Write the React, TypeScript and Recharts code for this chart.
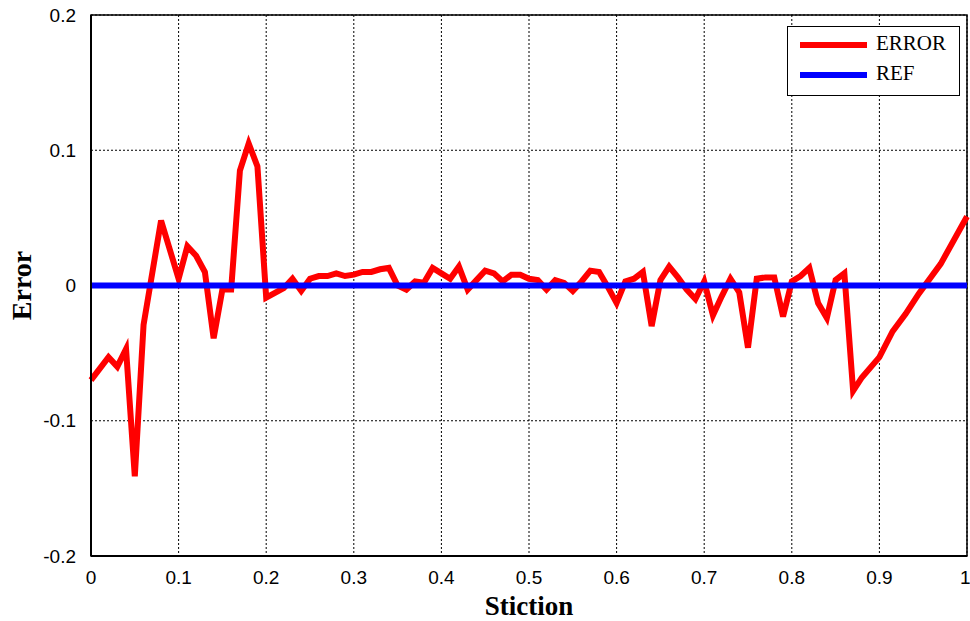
import React from 'react';
import {
  LineChart,
  Line,
  XAxis,
  YAxis,
  CartesianGrid,
  ReferenceArea,
} from 'recharts';

// stiction values (x) and the error read at each one
const stiction = [
  0, 0.02, 0.03, 0.04, 0.05, 0.06, 0.08, 0.1, 0.11, 0.12, 0.13, 0.14, 0.15, 0.16, 0.17, 0.18, 0.19, 0.2,
  0.22, 0.23, 0.24, 0.25, 0.26, 0.27, 0.28, 0.29, 0.3, 0.31, 0.32, 0.33, 0.34, 0.35, 0.36, 0.37, 0.38,
  0.39, 0.4, 0.41, 0.42, 0.43, 0.44, 0.45, 0.46, 0.47, 0.48, 0.49, 0.5, 0.51, 0.52, 0.53, 0.54, 0.55,
  0.56, 0.57, 0.58, 0.59, 0.6, 0.61, 0.62, 0.63, 0.64, 0.65, 0.66, 0.67, 0.68, 0.69, 0.7, 0.71, 0.72,
  0.73, 0.74, 0.75, 0.76, 0.77, 0.78, 0.79, 0.8, 0.81, 0.82, 0.83, 0.84, 0.85, 0.86, 0.87, 0.88, 0.9,
  0.915, 0.93, 0.945, 0.97, 1,
];
const errorValues = [
  -0.07, -0.053, -0.06, -0.047, -0.141, -0.029, 0.048, 0.005, 0.029, 0.022, 0.01, -0.039, -0.003, -0.003,
  0.085, 0.105, 0.088, -0.009, -0.002, 0.005, -0.004, 0.005, 0.007, 0.007, 0.009, 0.007, 0.008, 0.01,
  0.01, 0.012, 0.013, 0.0, -0.003, 0.003, 0.002, 0.013, 0.009, 0.005, 0.014, -0.003, 0.004, 0.011, 0.009,
  0.003, 0.008, 0.008, 0.005, 0.004, -0.003, 0.004, 0.002, -0.004, 0.003, 0.011, 0.01, -0.001, -0.013,
  0.003, 0.005, 0.01, -0.03, 0.004, 0.014, 0.006, -0.003, -0.01, 0.003, -0.022, -0.008, 0.005, -0.005,
  -0.046, 0.005, 0.006, 0.006, -0.023, 0.003, 0.007, 0.013, -0.013, -0.024, 0.004, 0.009, -0.078, -0.068,
  -0.053, -0.034, -0.021, -0.006, 0.016, 0.051,
];
const refValue = 0;

const xTicks = [0, 0.1, 0.2, 0.3, 0.4, 0.5, 0.6, 0.7, 0.8, 0.9, 1];
const yTicks = [-0.2, -0.1, 0, 0.1, 0.2];

const data = stiction.map((s, i) => ({ s, error: errorValues[i], ref: refValue }));

const fmt = (v: number) => (v === 0 ? '0' : String(Math.round(v * 10) / 10));

const serif = '"Liberation Serif", "Times New Roman", serif';

function LegendBox() {
  return (
    <div
      style={{
        position: 'absolute',
        left: 787,
        top: 26,
        width: 173,
        height: 70,
        border: '1.5px solid #000',
        background: '#fff',
        boxSizing: 'border-box',
        fontFamily: serif,
        fontSize: 21,
        color: '#000',
      }}
    >
      <div style={{ position: 'absolute', left: 12, top: 15, width: 67, height: 6, background: '#ff0000' }} />
      <div style={{ position: 'absolute', left: 88, top: 4 }}>ERROR</div>
      <div style={{ position: 'absolute', left: 12, top: 45, width: 67, height: 6, background: '#0000ff' }} />
      <div style={{ position: 'absolute', left: 88, top: 34 }}>REF</div>
    </div>
  );
}

export default function App() {
  return (
    <div style={{ position: 'absolute', left: 0, top: 0, width: 970, height: 621, background: '#fff' }}>
      <LineChart width={970} height={621} data={data} margin={{ top: 15, right: 3, left: 0, bottom: 0 }}>
        <CartesianGrid stroke="#000" strokeDasharray="2 2" strokeWidth={1} />
        <XAxis
          dataKey="s"
          type="number"
          domain={[0, 1]}
          ticks={xTicks}
          tickFormatter={fmt}
          height={65}
          axisLine={{ stroke: '#000', strokeWidth: 2 }}
          tickLine={false}
          tick={{ fill: '#000', fontSize: 19, fontFamily: '"Liberation Sans", Arial, sans-serif' }}
          tickMargin={9}
          label={{
            value: 'Stiction',
            position: 'insideBottom',
            offset: 6,
            style: { fill: '#000', fontSize: 27, fontWeight: 'bold', fontFamily: serif },
          }}
        />
        <YAxis
          type="number"
          domain={[-0.2, 0.2]}
          ticks={yTicks}
          tickFormatter={fmt}
          width={91}
          axisLine={{ stroke: '#000', strokeWidth: 2 }}
          tickLine={false}
          tick={{ fill: '#000', fontSize: 19, fontFamily: '"Liberation Sans", Arial, sans-serif' }}
          tickMargin={9}
          label={{
            value: 'Error',
            angle: -90,
            position: 'insideLeft',
            offset: 21,
            style: { textAnchor: 'middle', fill: '#000', fontSize: 28, fontWeight: 'bold', fontFamily: serif },
          }}
        />
        <ReferenceArea x1={0} x2={1} y1={-0.2} y2={0.2} fill="none" stroke="#000" strokeWidth={1.5} ifOverflow="visible" />
        <Line
          type="linear"
          dataKey="error"
          name="ERROR"
          stroke="#ff0000"
          strokeWidth={6}
          dot={false}
          isAnimationActive={false}
        />
        <Line
          type="linear"
          dataKey="ref"
          name="REF"
          stroke="#0000ff"
          strokeWidth={6}
          dot={false}
          isAnimationActive={false}
        />
      </LineChart>
      <LegendBox />
    </div>
  );
}
